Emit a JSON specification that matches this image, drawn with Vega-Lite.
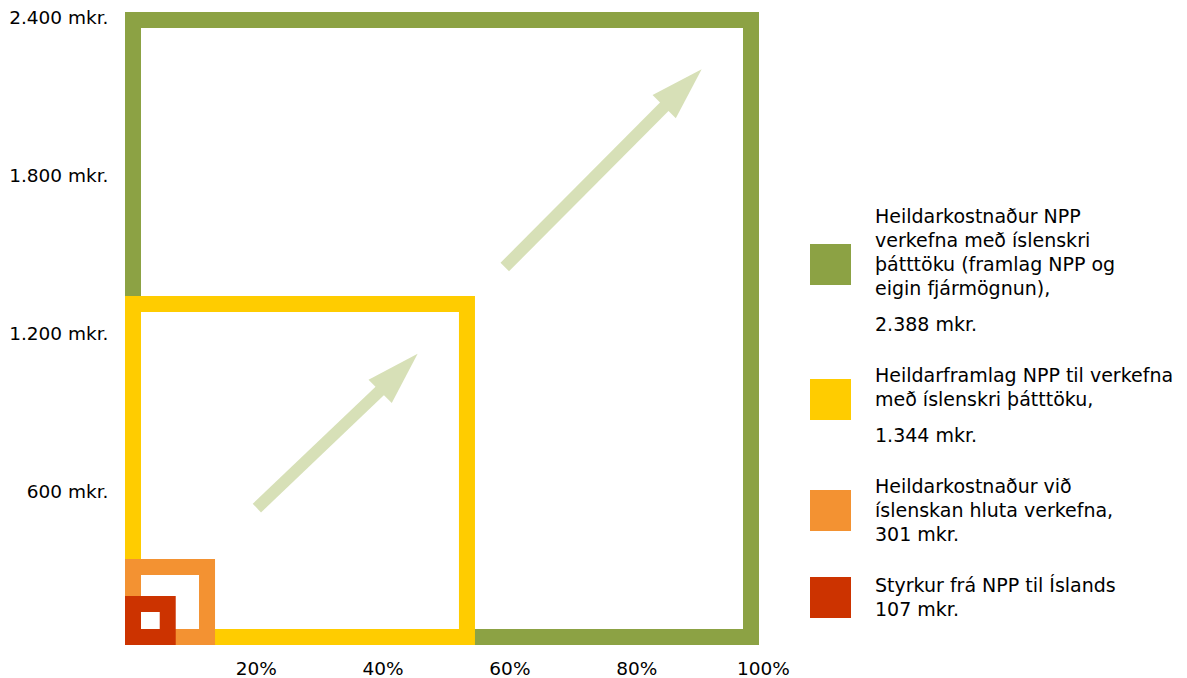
{
  "$schema": "https://vega.github.io/schema/vega-lite/v6.json",
  "width": 634,
  "height": 633,
  "autosize": {"type": "none"},
  "padding": {"left": 125, "top": 12, "right": 428, "bottom": 33},
  "background": "white",
  "config": {
    "view": {"stroke": null},
    "font": "DejaVu Sans",
    "axis": {"domain": false, "ticks": false, "grid": false, "labelFont": "DejaVu Sans", "labelFontSize": 18.5, "labelColor": "#000000", "title": null}
  },
  "datasets": {
    "ferningar": [
      {"flokkur": "Heildarkostnaður NPP|verkefna með íslenskri|þátttöku (framlag NPP og|eigin fjármögnun),||2.388 mkr.", "fra": 0, "hlutfall": 100, "upphaed": 2400},
      {"flokkur": "Heildarframlag NPP til verkefna|með íslenskri þátttöku,||1.344 mkr.", "fra": 0, "hlutfall": 55.2, "upphaed": 1323},
      {"flokkur": "Heildarkostnaður við|íslenskan hluta verkefna,|301 mkr.", "fra": 0, "hlutfall": 14.2, "upphaed": 326},
      {"flokkur": "Styrkur frá NPP til Íslands|107 mkr.", "fra": 0, "hlutfall": 8.0, "upphaed": 186}
    ],
    "orvar": [
      {"pil": 1, "x": 20.8, "y": 519, "xe": 41.0, "ye": 982, "xh": 43.2, "yh": 1033},
      {"pil": 2, "x": 59.9, "y": 1433, "xe": 85.8, "ye": 2059, "xh": 88.0, "yh": 2112}
    ]
  },
  "layer": [
    {
      "data": {"name": "ferningar"},
      "mark": {"type": "rect", "filled": false, "strokeWidth": 16, "xOffset": 8, "x2Offset": -8, "yOffset": 8, "y2Offset": -8},
      "encoding": {
        "x": {"field": "fra", "type": "quantitative", "scale": {"domain": [0, 100], "nice": false, "zero": true},
              "axis": {"values": [20, 40, 60, 80, 100], "labelExpr": "datum.value + '%'", "labelPadding": 14, "labelOffset": 4, "labelFlush": false}},
        "x2": {"field": "hlutfall"},
        "y": {"field": "upphaed", "type": "quantitative", "scale": {"domain": [0, 2400], "nice": false},
              "axis": {"values": [600, 1200, 1800, 2400], "labelExpr": "replace(format(datum.value, ','), ',', '.') + ' mkr.'", "labelPadding": 17, "labelOffset": 5}},
        "y2": {"field": "fra"},
        "color": {
          "field": "flokkur", "type": "nominal", "sort": null,
          "scale": {"range": ["#8ca244", "#ffcc00", "#f39232", "#cc3300"]},
          "legend": {
            "title": null, "orient": "none", "legendX": 685, "legendY": 232,
            "symbolType": "square", "symbolSize": 1681, "symbolStrokeWidth": 0,
            "labelFont": "DejaVu Sans", "labelFontSize": 19, "labelColor": "#000000",
            "labelOffset": 24, "rowPadding": 31, "labelLimit": 500,
            "labelExpr": "split(replace(replace(replace(datum.label, '||', '#'), regexp('[|]', 'g'), '|\u200b|'), '#', '|\u200b|\u200b|'), '|')",
            "encode": {
              "symbols": {"update": {"fill": {"scale": "color", "field": "value"}, "stroke": {"value": "transparent"}, "opacity": {"value": 1}}},
              "labels": {"update": {"lineHeight": {"value": 12}, "dy": {"signal": "-(length(split(replace(datum.label, regexp('[|]+', 'g'), '|'), '|')) - 1) * 12"}}}
            }
          }
        }
      }
    },
    {
      "data": {"name": "orvar"},
      "mark": {"type": "rule", "color": "#d7e0b7", "strokeWidth": 12, "strokeCap": "butt"},
      "encoding": {
        "x": {"field": "x", "type": "quantitative"},
        "y": {"field": "y", "type": "quantitative"},
        "x2": {"field": "xe"},
        "y2": {"field": "ye"}
      }
    },
    {
      "data": {"name": "orvar"},
      "mark": {"type": "point", "shape": "M0,-1L0.62,1L-0.62,1Z", "angle": 45, "size": 2809, "filled": true, "color": "#d7e0b7", "opacity": 1, "strokeWidth": 0},
      "encoding": {
        "x": {"field": "xh", "type": "quantitative"},
        "y": {"field": "yh", "type": "quantitative"}
      }
    }
  ]
}
